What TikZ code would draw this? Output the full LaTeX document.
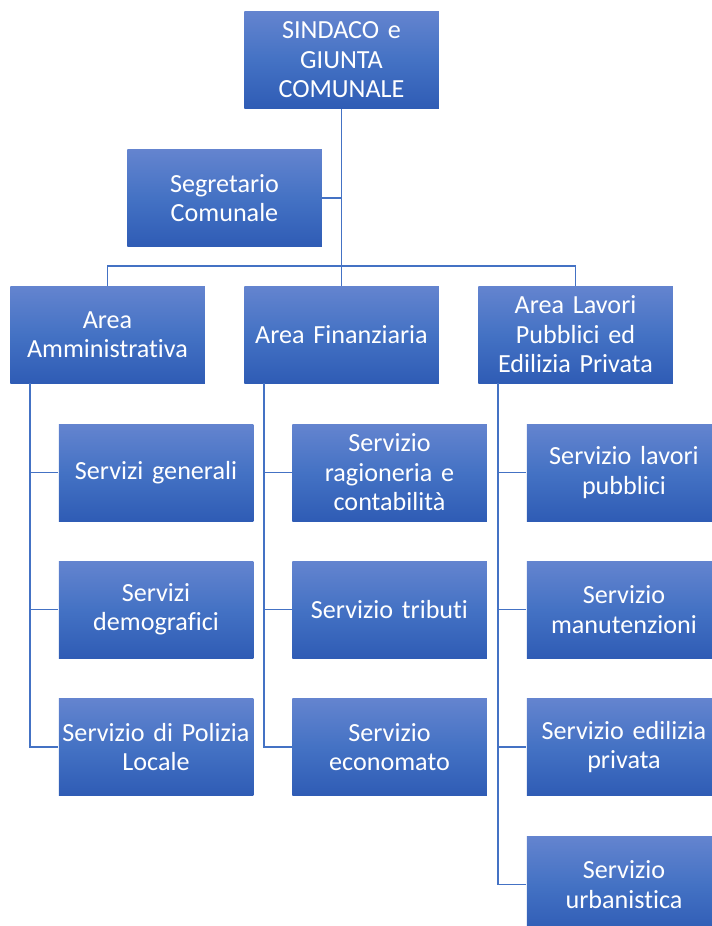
\documentclass[tikz,border=0pt]{standalone}
\usepackage{fontspec}
\setmainfont{Carlito}[Ligatures=NoCommon]
\definecolor{topc}{RGB}{100,132,207}
\definecolor{midc}{RGB}{68,114,196}
\definecolor{botc}{RGB}{47,92,181}
\definecolor{linec}{RGB}{68,114,196}
\tikzset{
  box/.style={rectangle, minimum width=194.5*0.75pt, minimum height=97*0.75pt,
    top color=topc, bottom color=botc, middle color=midc, draw=none,
    text=white, align=center, font=\fontsize{19.6}{22.1}\selectfont, inner sep=0pt, text width=194*0.75pt},
  conn/.style={draw=linec, line width=1.1pt}
}
\begin{document}
\begin{tikzpicture}[x=0.75pt,y=-0.75pt]
\useasboundingbox (0,0) rectangle (712,926);
\begin{scope}
\clip (0,0) rectangle (712,926);
% nodes
\node[box] (sind) at (341.5,60) {SINDACO e\\GIUNTA\\COMUNALE};
\node[box] (segr) at (224.5,198) {Segretario\\Comunale};
\node[box] (amm) at (107.5,334.5) {Area\\Amministrativa};
\node[box] (fin) at (341.5,334.5) {Area Finanziaria};
\node[box] (lav) at (575.5,334.5) {Area Lavori\\Pubblici ed\\Edilizia Privata};
\node[box] (a1) at (156,472.5) {Servizi generali};
\node[box] (a2) at (156,609.5) {Servizi\\demografici};
\node[box] (a3) at (156,747) {Servizio di Polizia\\Locale};
\node[box] (f1) at (389.5,472.5) {Servizio\\ragioneria e\\contabilità};
\node[box] (f2) at (389.5,609.5) {Servizio tributi};
\node[box] (f3) at (389.5,747) {Servizio\\economato};
\node[box] (l1) at (624,472.5) {Servizio lavori\\pubblici};
\node[box] (l2) at (624,609.5) {Servizio\\manutenzioni};
\node[box] (l3) at (624,747) {Servizio edilizia\\privata};
\node[box] (l4) at (624,884.5) {Servizio\\urbanistica};
\end{scope}
% connectors
\coordinate (bar) at (341.5,266);
\draw[conn] (sind.south) -- (fin.north);
\draw[conn] (segr.east) -- (segr.east -| sind.south);
\draw[conn] (amm.north) |- (bar) -| (lav.north);
% column 1
\coordinate (c1) at (30,383);
\draw[conn] (c1) |- (a3.west);
\draw[conn] (c1 |- a1.west) -- (a1.west);
\draw[conn] (c1 |- a2.west) -- (a2.west);
% column 2
\coordinate (c2) at (264,383);
\draw[conn] (c2) |- (f3.west);
\draw[conn] (c2 |- f1.west) -- (f1.west);
\draw[conn] (c2 |- f2.west) -- (f2.west);
% column 3
\coordinate (c3) at (498,383);
\draw[conn] (c3) |- (l4.west);
\draw[conn] (c3 |- l1.west) -- (l1.west);
\draw[conn] (c3 |- l2.west) -- (l2.west);
\draw[conn] (c3 |- l3.west) -- (l3.west);
\end{tikzpicture}
\end{document}
